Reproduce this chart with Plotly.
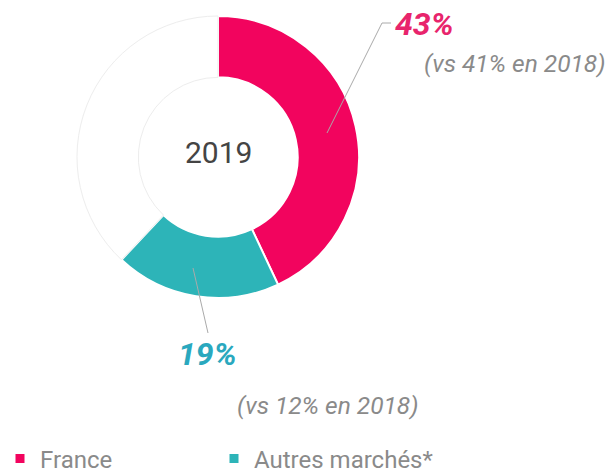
import plotly.graph_objects as go

labels = ["France", "Autres marchés*", "Reste"]
values = [43, 19, 38]
colors = ["#F2045E", "#2DB4B8", "#FFFFFF"]
line_colors = ["#FFFFFF", "#FFFFFF", "#EDEDED"]
center_label = "2019"
pct_labels = ["43%", "19%"]
compare_labels = ["(vs 41% en 2018)", "(vs 12% en 2018)"]

W, H = 612, 476

def px(x):
    return x / W

def py(y):
    return 1 - y / H

fig = go.Figure()
fig.add_trace(go.Pie(
    labels=labels, values=values, sort=False, direction="clockwise",
    rotation=0, hole=0.565,
    marker=dict(colors=colors, line=dict(color=line_colors, width=[2, 2, 1])),
    textinfo="none", hoverinfo="label+percent", showlegend=False,
    domain=dict(x=[px(77), px(359)], y=[py(298), py(16)]),
))

# Legend entries (square markers), one legend box per entry
for i, (lab, col) in enumerate(zip(labels[:2], colors[:2])):
    fig.add_trace(go.Scatter(
        x=[None], y=[None], mode="markers", name=lab,
        legend="legend" if i == 0 else "legend2",
        marker=dict(symbol="square", size=9, color=col),
    ))

def ann(x, y, text, size, color, xanchor="center"):
    return dict(x=px(x), y=py(y), xref="paper", yref="paper", text=text,
                xanchor=xanchor, yanchor="middle", showarrow=False,
                font=dict(size=size, color=color, family="Roboto"))

legend_style = dict(orientation="h", xanchor="left", y=py(459), yanchor="middle",
                    font=dict(size=24, color="#8A8A8A", family="Roboto"),
                    itemwidth=30, bgcolor="rgba(0,0,0,0)")

fig.update_layout(
    width=W, height=H,
    margin=dict(l=0, r=0, t=0, b=0, autoexpand=False),
    paper_bgcolor="white", plot_bgcolor="white",
    font=dict(family="Roboto", color="#555"),
    xaxis=dict(visible=False), yaxis=dict(visible=False),
    showlegend=True,
    legend=dict(x=0, **legend_style),
    legend2=dict(x=px(214), **legend_style),
    annotations=[
        ann(218.5, 153, center_label, 30, "#444444"),
        ann(393, 24, "<b><i>" + pct_labels[0] + "</i></b>", 32, "#E8246C", "left"),
        ann(607, 64, "<i>" + compare_labels[0] + "</i>", 24.5, "#8A8A8A", "right"),
        ann(207.5, 354, "<b><i>" + pct_labels[1] + "</i></b>", 32, "#2AA8BE"),
        ann(327.5, 405, "<i>" + compare_labels[1] + "</i>", 24.5, "#8A8A8A"),
    ],
    shapes=[
        dict(type="line", xref="paper", yref="paper", x0=px(327), y0=py(133),
             x1=px(382), y1=py(23), line=dict(color="#AAAAAA", width=1)),
        dict(type="line", xref="paper", yref="paper", x0=px(382), y0=py(23),
             x1=px(391), y1=py(23), line=dict(color="#AAAAAA", width=1)),
        dict(type="line", xref="paper", yref="paper", x0=px(193), y0=py(268),
             x1=px(208), y1=py(333), line=dict(color="#AAAAAA", width=1)),
    ],
)

fig.write_html("out.html", config={"displayModeBar": False},
               post_script="document.body.style.margin='0';")
